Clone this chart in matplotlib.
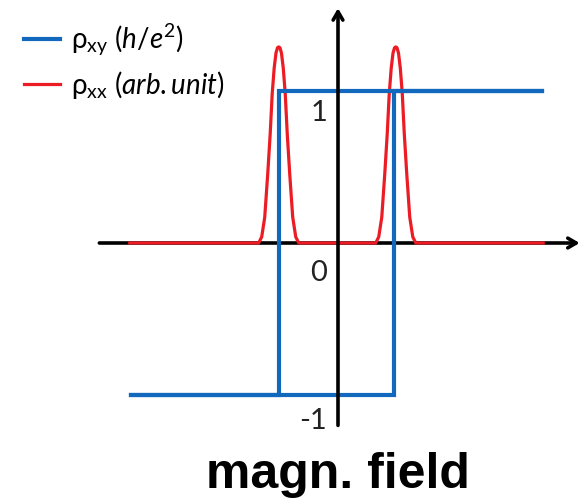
import numpy as np
import matplotlib
matplotlib.use("Agg")
import matplotlib.pyplot as plt

# Hall resistance hysteresis loop (units of h/e^2)
sweep_up_field = [-1.36, 0.37, 0.37, 1.34]
sweep_up_rho_xy = [-1, -1, 1, 1]
sweep_down_field = [1.34, -0.39, -0.39, -1.36]
sweep_down_rho_xy = [1, 1, -1, -1]

# longitudinal resistance: flat baseline with a peak at each switching field
peak_centers = [-0.39, 0.38]
peak_offsets = [-0.132, -0.112, -0.092, -0.072, -0.056, -0.043, -0.030, -0.018, -0.008, 0.0,
                0.008, 0.018, 0.030, 0.043, 0.056, 0.072, 0.092, 0.112, 0.132]
peak_heights = [0.0, 0.04, 0.17, 0.46, 0.72, 0.98, 1.15, 1.25, 1.285, 1.29,
                1.285, 1.25, 1.15, 0.98, 0.72, 0.46, 0.17, 0.04, 0.0]
rho_xx_start, rho_xx_end = -1.37, 1.35

tick_values = [1, 0, -1]
tick_labels = ["1", "0", "-1"]

blue = "#1168bd"
red = "#ec1c24"

plt.rcParams["mathtext.fontset"] = "custom"
plt.rcParams["mathtext.rm"] = "Lato"
plt.rcParams["mathtext.it"] = "Lato:italic"

fig = plt.figure(figsize=(5.82, 5.0), dpi=100)
ax = fig.add_axes([0, 0, 1, 1])
ax.set_xlim(-338 / 152, 244 / 152)
ax.set_ylim(-257 / 152, 243 / 152)
ax.axis("off")

# red curve built from baseline + two peaks
xx = [rho_xx_start]
yy = [0.0]
for c in peak_centers:
    xx += [c + o for o in peak_offsets]
    yy += peak_heights
xx.append(rho_xx_end)
yy.append(0.0)

# horizontal axis (under curves)
ax.annotate("", xy=(1.59, 0), xytext=(-1.57, 0),
            arrowprops=dict(arrowstyle="->,head_length=0.6,head_width=0.35",
                            lw=2.6, color="black", shrinkA=0, shrinkB=0),
            zorder=1)

ax.plot(xx, yy, color=red, lw=2.3, solid_joinstyle="round", zorder=2,
        label=r"ρ$_{\mathrm{xx}}$ ($\mathit{arb.unit}$)")
ax.plot(sweep_up_field, sweep_up_rho_xy, color=blue, lw=3.0, zorder=3,
        solid_joinstyle="miter", label=r"ρ$_{\mathrm{xy}}$ ($\mathit{h/e}^{2}$)")
ax.plot(sweep_down_field, sweep_down_rho_xy, color=blue, lw=3.0, zorder=3,
        solid_joinstyle="miter")

# vertical axis on top
ax.annotate("", xy=(0, 1.545), xytext=(0, -1.20),
            arrowprops=dict(arrowstyle="->,head_length=0.6,head_width=0.35",
                            lw=2.6, color="black", shrinkA=0, shrinkB=0),
            zorder=5)

label_y = {1: 0.855, 0: -0.197, -1: -1.17}
for v, t in zip(tick_values, tick_labels):
    ax.text(-0.072, label_y[v], t, ha="right", va="center",
            fontsize=21, family="Lato", color="#222222", zorder=6)

ax.text(0, -1.615, "magn. field", ha="center", va="baseline",
        fontsize=36, fontweight="bold", family="Liberation Sans")

handles, labels = ax.get_legend_handles_labels()
leg = ax.legend(handles[::-1], labels[::-1], loc="upper left",
                bbox_to_anchor=(0.008, 0.995), frameon=False,
                prop={"family": "Lato", "size": 20}, handlelength=1.3,
                handletextpad=0.4, labelspacing=0.38, borderaxespad=0.3)

fig.savefig("out.png", dpi=100)
